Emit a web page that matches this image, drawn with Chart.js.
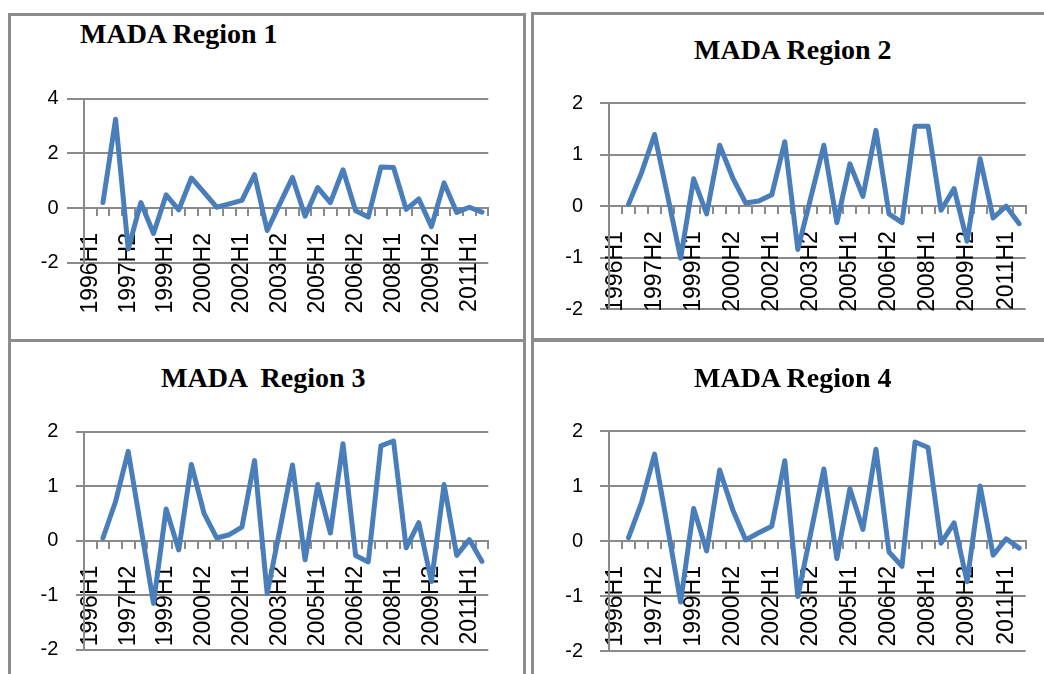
<!DOCTYPE html>
<html>
<head>
<meta charset="utf-8">
<script src="https://cdn.jsdelivr.net/npm/chart.js@4.4.0/dist/chart.umd.min.js"></script>
<style>
  body { margin: 0; width: 1044px; height: 674px; overflow: hidden; background: #fff; position: relative; }
  .box { position: absolute; border: 3px solid #8c8c8c; box-sizing: border-box; }
  .title { position: absolute; font: bold 28px "Liberation Serif", "Times New Roman", serif; line-height: 28px; white-space: pre; color: #000; }
  canvas { position: absolute; }
</style>
</head>
<body>
<div class="box" style="left:8px;top:13px;width:518px;height:329px"></div>
<div class="box" style="left:531px;top:12px;width:530px;height:330px"></div>
<div class="box" style="left:8px;top:339px;width:518px;height:360px"></div>
<div class="box" style="left:531px;top:338px;width:530px;height:360px"></div>

<script>
var categories = ['1996H1', '1996H2', '1997H1', '1997H2', '1998H1', '1998H2', '1999H1', '1999H2',
    '2000H1', '2000H2', '2001H1', '2001H2', '2002H1', '2002H2', '2003H1', '2003H2',
    '2004H1', '2004H2', '2005H1', '2005H2', '2006H1', '2006H2', '2007H1', '2007H2',
    '2008H1', '2008H2', '2009H1', '2009H2', '2010H1', '2010H2', '2011H1', '2011H2'];

// only every third category is labelled on the axis
var shownLabels = ['1996H1', '1997H2', '1999H1', '2000H2', '2002H1', '2003H2',
    '2005H1', '2006H2', '2008H1', '2009H2', '2011H1'];

var region1 = [null, 0.2, 3.25, -1.5, 0.2, -0.93, 0.48, -0.07, 1.1, 0.57, 0.03, 0.15, 0.28, 1.22, -0.82, 0.15,
    1.12, -0.3, 0.75, 0.2, 1.4, -0.1, -0.33, 1.5, 1.48, -0.05, 0.33, -0.68, 0.92, -0.16, 0.03, -0.15];
var region2 = [null, 0.04, 0.65, 1.39, 0.2, -1.01, 0.53, -0.15, 1.18, 0.55, 0.06, 0.1, 0.22, 1.25, -0.84, 0.17,
    1.18, -0.32, 0.82, 0.19, 1.47, -0.15, -0.32, 1.55, 1.55, -0.08, 0.34, -0.68, 0.92, -0.23, 0.0, -0.34];
var region3 = [null, 0.05, 0.72, 1.64, 0.25, -1.15, 0.58, -0.17, 1.4, 0.5, 0.05, 0.11, 0.25, 1.47, -0.97, 0.2,
    1.39, -0.35, 1.03, 0.14, 1.78, -0.27, -0.39, 1.74, 1.83, -0.13, 0.33, -0.75, 1.03, -0.27, 0.02, -0.38];
var region4 = [null, 0.06, 0.7, 1.58, 0.25, -1.11, 0.59, -0.18, 1.29, 0.57, 0.02, 0.15, 0.27, 1.46, -1.01, 0.15,
    1.31, -0.32, 0.95, 0.21, 1.67, -0.2, -0.46, 1.8, 1.7, -0.04, 0.33, -0.74, 1.0, -0.26, 0.04, -0.13];

var titles = ['MADA Region 1', 'MADA Region 2', 'MADA  Region 3', 'MADA Region 4'];
var yRanges = [[-2, 4, 2], [-2, 2, 1], [-2, 2, 1], [-2, 2, 1]];

// layout: plot area [left, top, right, bottom], y tick length / padding, title position
var panels = [
    { data: region1, area: [84, 98.7, 488.3, 262.7], yTick: 17, yPad: 8.5, titleX: 80, titleY: 19.6 },
    { data: region2, area: [609, 98.7, 1025.7, 309.3], yTick: 9, yPad: 17, titleX: 694, titleY: 35.6 },
    { data: region3, area: [84, 426.3, 488.3, 649.7], yTick: 8, yPad: 17.7, titleX: 161, titleY: 363.6 },
    { data: region4, area: [609, 426.3, 1025.7, 651], yTick: 9, yPad: 17, titleX: 694, titleY: 363.6 }
];

var gridColor = '#8a8a8a';
var tickFont = '"Liberation Sans", Arial, sans-serif';

function makeChart(p, idx) {
    var left = Math.floor(p.area[0]) - 80;
    var top = Math.floor(p.area[1]) - 24;
    var right = Math.ceil(p.area[2]) + 60;
    var bottom = Math.ceil(p.area[3]) + 80;

    var title = document.createElement('div');
    title.className = 'title';
    title.style.left = p.titleX + 'px';
    title.style.top = p.titleY + 'px';
    title.textContent = titles[idx];
    document.body.appendChild(title);

    var cv = document.createElement('canvas');
    cv.width = right - left;
    cv.height = bottom - top;
    cv.style.left = left + 'px';
    cv.style.top = top + 'px';
    document.body.appendChild(cv);

    return new Chart(cv.getContext('2d'), {
        type: 'line',
        data: {
            labels: categories,
            datasets: [{
                data: p.data,
                borderColor: '#4a7ebb',
                borderWidth: 5,
                borderJoinStyle: 'round',
                borderCapStyle: 'round',
                pointRadius: 0,
                tension: 0,
                fill: false,
            }],
        },
        options: {
            responsive: false,
            animation: false,
            events: [],
            layout: {
                padding: {
                    left: p.area[0] - 80 - left,
                    top: p.area[1] - top,
                    right: right - p.area[2],
                    bottom: bottom - p.area[3],
                },
            },
            plugins: {
                legend: { display: false },
                tooltip: { enabled: false },
            },
            scales: {
                x: {
                    position: { y: 0 },
                    offset: true,
                    grid: { offset: true, drawOnChartArea: false, drawTicks: true, tickLength: 7, color: gridColor, lineWidth: 2 },
                    border: { display: true, color: gridColor, width: 2 },
                    ticks: {
                        autoSkip: false,
                        minRotation: 90,
                        maxRotation: 90,
                        padding: 18,
                        color: '#000',
                        font: { family: tickFont, size: 23 },
                        callback: function (v, i) {
                            return shownLabels.indexOf(categories[i]) >= 0 ? categories[i] : '';
                        },
                    },
                },
                y: {
                    min: yRanges[idx][0],
                    max: yRanges[idx][1],
                    ticks: {
                        stepSize: yRanges[idx][2],
                        padding: p.yPad,
                        color: '#000',
                        font: { family: tickFont, size: 20 },
                    },
                    grid: { color: gridColor, lineWidth: 2, drawTicks: true, tickLength: p.yTick },
                    border: { display: true, color: gridColor, width: 2 },
                    afterFit: function (s) { s.width = 80; },
                },
            },
        },
    });
}

panels.forEach(makeChart);
</script>
</body>
</html>
